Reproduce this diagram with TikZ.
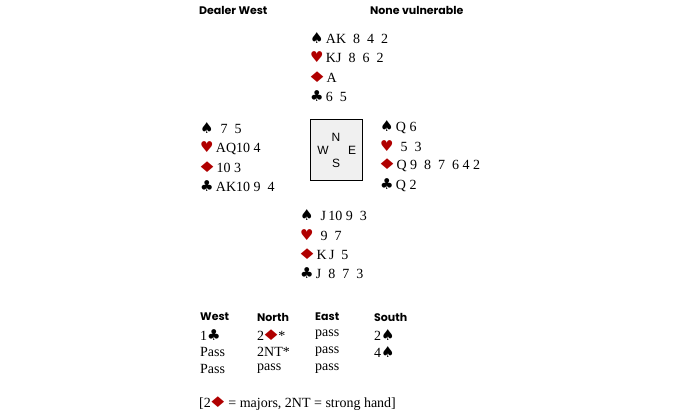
\documentclass[tikz,border=0pt]{standalone}
\usepackage{fontspec}
\usepackage{graphicx}
\setmainfont{Liberation Serif}
\newfontfamily\headfont{Poppins}
\newfontfamily\compassfont{Liberation Sans}
\newfontfamily\suitfont{DejaVu Sans}
\definecolor{suitred}{HTML}{B00000}
\newcommand{\spadesym}{{\suitfont\fontsize{15}{16}\selectfont ♠}}
\newcommand{\clubsym}{{\suitfont\fontsize{15}{16}\selectfont ♣}}
\newcommand{\heartsym}{{\color{suitred}\suitfont\fontsize{15}{16}\selectfont ♥}}
\newcommand{\diamsym}{{\color{suitred}\suitfont\fontsize{14}{16}\selectfont\kern-3pt\scalebox{1.6}[1.05]{♦}\kern-3pt}}
\tikzset{
  card/.style={anchor=west,inner sep=0pt,font=\fontsize{14}{16}\selectfont},
  head/.style={anchor=west,inner sep=0pt,font=\headfont\bfseries\fontsize{11}{13}\selectfont},
  bid/.style={anchor=west,inner sep=0pt,font=\fontsize{14}{16}\selectfont},
  compass/.style={inner sep=0pt,font=\compassfont\fontsize{12}{14}\selectfont}
}
\begin{document}
\begin{tikzpicture}[x=1pt,y=-1pt]
\useasboundingbox (0,0) rectangle (700,413);
% headings
\node [head] (dealer) at (199,10) {Dealer West};
\node [head] (vul) at (370,10) {None vulnerable};
% north
\node [card] (ns) at (310,38) {\spadesym\,AK\ \ 8\ \ 4\ \ 2};
\node [card] (nh) at (310,57) {\heartsym\,KJ\ \ 8\ \ 6\ \ 2};
\node [card] (nd) at (310,77) {\diamsym\,A};
\node [card] (nc) at (310,96) {\clubsym\,6\ \ 5};
% west
\node [card] (ws) at (200,128) {\spadesym\ \ 7\ \ 5};
\node [card] (wh) at (200,148) {\heartsym\,AQ10\ 4};
\node [card] (wd) at (200,167) {\diamsym\,10\ 3};
\node [card] (wc) at (200,186) {\clubsym\,AK10\ 9\ \ 4};
% table
\draw [fill=gray!12,semithick] (310,119) rectangle (362,180);
\node [compass] (N) at (336,137) {N};
\node [compass] (W) at (323,150) {W};
\node [compass] (E) at (352,150) {E};
\node [compass] (S) at (336,163) {S};
% east
\node [card] (es) at (380,127) {\spadesym\,Q\ 6};
\node [card] (eh) at (380,146) {\heartsym\ \ 5\ \ 3};
\node [card] (ed) at (380,165) {\diamsym\,Q\ 9\ \ 8\ \ 7\ \ 6\ 4\ 2};
\node [card] (ec) at (380,185) {\clubsym\,Q\ 2};
% south
\node [card] (ss) at (300,215) {\spadesym\ \ J\,10\ 9\ \ 3};
\node [card] (sh) at (300,235) {\heartsym\ \ 9\ \ 7};
\node [card] (sd) at (300,254) {\diamsym\,K\,J\ \ 5};
\node [card] (sc) at (300,273) {\clubsym\,J\ \ 8\ \ 7\ \ 3};
% bidding
\node [head] (west) at (200,317) {West};
\node [head] (north) at (257,317) {North};
\node [head] (east) at (315,317) {East};
\node [head] (south) at (374,317) {South};
\node [bid] (b1) at (200,335) {1\clubsym};
\node [bid] (b2) at (257,335) {2\diamsym*};
\node [bid] (b3) at (315,335) {pass};
\node [bid] (b4) at (374,335) {2\spadesym};
\node [bid] (b5) at (200,352) {Pass};
\node [bid] (b6) at (257,352) {2NT*};
\node [bid] (b7) at (315,352) {pass};
\node [bid] (b8) at (374,352) {4\spadesym};
\node [bid] (b9) at (200,369) {Pass};
\node [bid] (b10) at (257,369) {pass};
\node [bid] (b11) at (315,369) {pass};
\node [bid] (note) at (199,404) {[2\diamsym\ = majors, 2NT = strong hand]};
\end{tikzpicture}
\end{document}
